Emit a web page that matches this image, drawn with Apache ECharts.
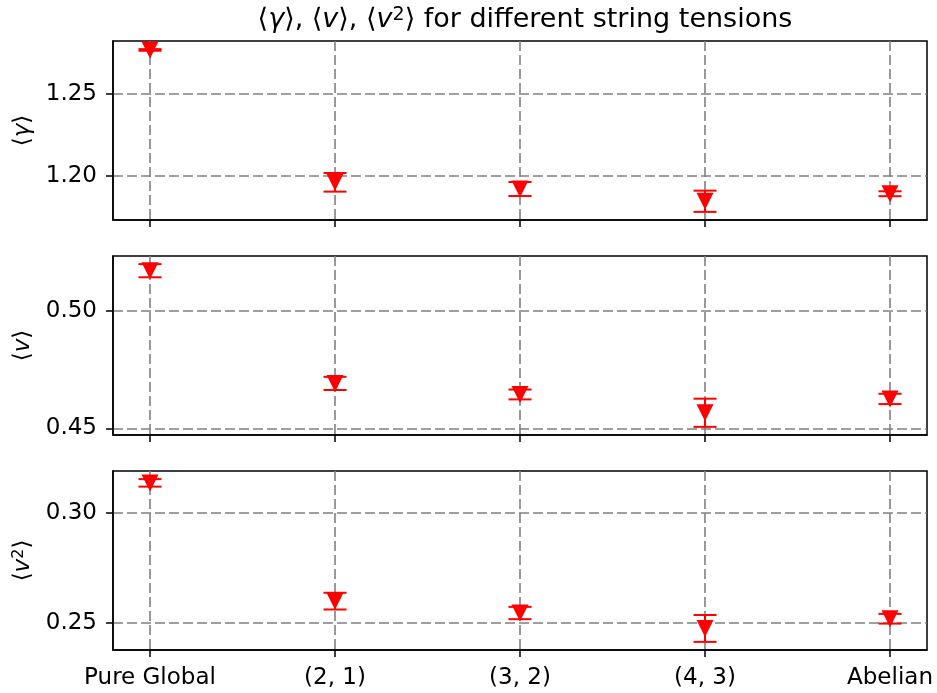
<!DOCTYPE html>
<html>
<head>
<meta charset="utf-8">
<script src="https://cdn.jsdelivr.net/npm/echarts@6/dist/echarts.min.js"></script>
<style>
html,body{margin:0;padding:0;background:#fff;}
#chart{width:937px;height:693px;}
</style>
</head>
<body>
<div id="chart"></div>
<script>
// ---- data ----
const categories = ['Pure Global', '(2, 1)', '(3, 2)', '(4, 3)', 'Abelian'];
const gammaMean = [1.2770, 1.1959, 1.1918, 1.1843, 1.1889];
const gammaErr  = [0.0005, 0.0057, 0.0043, 0.0065, 0.0015];
const vMean     = [0.5172, 0.4692, 0.4645, 0.4567, 0.4626];
const vErr      = [0.0028, 0.0028, 0.0021, 0.0060, 0.0022];
const v2Mean    = [0.3137, 0.2600, 0.2546, 0.2476, 0.2520];
const v2Err     = [0.0017, 0.0038, 0.0028, 0.0061, 0.0022];
const gammaTicks = [1.20, 1.25];
const vTicks     = [0.45, 0.50];
const v2Ticks    = [0.25, 0.30];

const FONT = 'DejaVu Sans';
const FS = 23;
const panels = [
  {mean: gammaMean, err: gammaErr, ticks: gammaTicks, name: '⟨{i|γ}⟩'},
  {mean: vMean, err: vErr, ticks: vTicks, name: '⟨{i|v}⟩'},
  {mean: v2Mean, err: v2Err, ticks: v2Ticks, name: '⟨{i|v}{s|2}⟩'}
];
const gridTops = [41, 256, 471];
const gridH = 179;
const xIdx = categories.map((c, i) => i);

function range(mean, err) {
  const hi = Math.max(...mean.map((m, i) => m + err[i]));
  const lo = Math.min(...mean.map((m, i) => m - err[i]));
  const pad = (hi - lo) * 0.05;
  return [lo - pad, hi + pad];
}

function richStyles(fs) {
  return {
    i: {fontStyle: 'italic', fontSize: fs, fontFamily: FONT, color: '#000'},
    s: {fontSize: Math.round(fs * 0.7), fontFamily: FONT, color: '#000', verticalAlign: 'top', padding: [0, 0, Math.round(fs * 0.35), 0]}
  };
}

const dashLine = {show: true, lineStyle: {color: '#808080', width: 1.6, type: [10, 4]}};
const grids = [], xAxes = [], yAxes = [], series = [];
panels.forEach((p, k) => {
  grids.push({left: 113, right: 10, top: gridTops[k], height: gridH, show: true,
    containLabel: false, outerBoundsMode: 'none',
    borderColor: '#000', borderWidth: 1.5, backgroundColor: 'transparent'});
  xAxes.push({
    type: 'value', gridIndex: k, min: -0.2, max: 4.2,
    axisLine: {show: true, onZero: false, lineStyle: {color: '#000', width: 1.5}},
    axisTick: {show: true, inside: false, length: 7, customValues: xIdx, lineStyle: {color: '#000', width: 1.5}},
    axisLabel: {show: k === 2, customValues: xIdx, margin: 17, color: '#000', fontSize: FS, fontFamily: FONT,
      formatter: v => categories[Math.round(v)]},
    splitLine: dashLine
  });
  const r = range(p.mean, p.err);
  yAxes.push({
    type: 'value', gridIndex: k, min: r[0], max: r[1],
    name: p.name, nameLocation: 'middle', nameRotate: 90, nameGap: 78,
    nameTextStyle: {color: '#000', fontSize: FS, fontFamily: FONT, rich: richStyles(FS)},
    axisLine: {show: true, onZero: false, lineStyle: {color: '#000', width: 1.5}},
    axisTick: {show: true, inside: false, length: 7, customValues: p.ticks, lineStyle: {color: '#000', width: 1.5}},
    axisLabel: {show: true, customValues: p.ticks, margin: 16, color: '#000', fontSize: FS, fontFamily: FONT,
      formatter: v => v.toFixed(2)},
    splitLine: dashLine
  });
  series.push({
    type: 'custom', xAxisIndex: k, yAxisIndex: k, z: 3,
    data: p.mean.map((m, i) => [i, m, p.err[i]]),
    renderItem: function (params, api) {
      const x = api.value(0), m = api.value(1), e = api.value(2);
      const top = api.coord([x, m + e]);
      const bot = api.coord([x, m - e]);
      const hw = 11.5;
      const st = {stroke: '#ff0000', lineWidth: 2};
      return {type: 'group', children: [
        {type: 'line', shape: {x1: top[0], y1: top[1], x2: bot[0], y2: bot[1]}, style: st},
        {type: 'line', shape: {x1: top[0] - hw, y1: top[1], x2: top[0] + hw, y2: top[1]}, style: st},
        {type: 'line', shape: {x1: bot[0] - hw, y1: bot[1], x2: bot[0] + hw, y2: bot[1]}, style: st}
      ]};
    }
  });
  series.push({
    type: 'scatter', xAxisIndex: k, yAxisIndex: k, z: 4,
    symbol: 'triangle', symbolRotate: 180, symbolSize: 17,
    itemStyle: {color: '#ff0000', opacity: 1},
    data: p.mean.map((m, i) => [i, m])
  });
});

const chart = echarts.init(document.getElementById('chart'), null, {renderer: 'canvas'});
chart.setOption({
  animation: false,
  backgroundColor: '#fff',
  title: {
    text: '⟨{i|γ}⟩, ⟨{i|v}⟩, ⟨{i|v}{s|2}⟩ for different string tensions',
    left: 520, top: 1, textAlign: 'center',
    textStyle: {color: '#000', fontSize: 27, fontWeight: 'normal', fontFamily: FONT, rich: richStyles(27)}
  },
  grid: grids,
  xAxis: xAxes,
  yAxis: yAxes,
  series: series
});
</script>
</body>
</html>
